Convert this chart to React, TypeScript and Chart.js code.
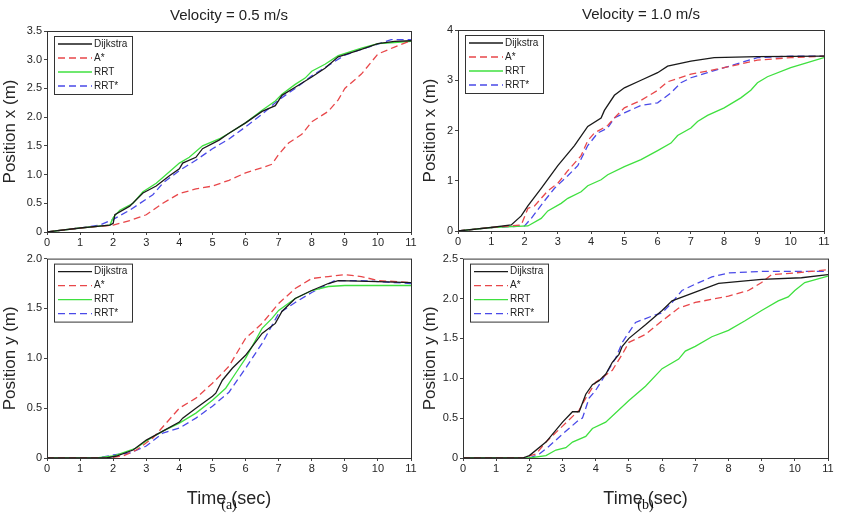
import React, { useRef, useEffect } from 'react';
import { Chart, registerables } from 'chart.js';

Chart.register(...registerables);

type Pt = [number, number];

const seriesNames = ['Dijkstra', 'A*', 'RRT', 'RRT*'];
const seriesColors = ['#1a1a1a', '#e8474a', '#3fe03f', '#4a4ae8'];
const seriesDash = [[], [7, 4], [], [7, 4]];
const timeTicks = [0, 1, 2, 3, 4, 5, 6, 7, 8, 9, 10, 11];

// velocity 0.5, position x
const ax05Dijkstra: Pt[] = [[0,0],[1,0.07],[1.9,0.12],[2,0.15],[2.05,0.3],[2.5,0.45],[2.9,0.68],[3.3,0.8],[3.7,0.98],[4,1.1],[4.1,1.2],[4.5,1.3],[4.7,1.45],[5.2,1.6],[5.5,1.72],[6,1.9],[6.5,2.1],[6.9,2.2],[7.1,2.38],[7.5,2.52],[8,2.7],[8.4,2.85],[8.8,3.05],[9.5,3.18],[10,3.28],[10.5,3.32],[11,3.33]];
const ax05Astar: Pt[] = [[0,0],[1,0.07],[2,0.12],[2.5,0.2],[3,0.3],[3.5,0.5],[4,0.67],[4.5,0.75],[5,0.8],[5.5,0.9],[6,1.03],[6.5,1.12],[6.8,1.18],[7,1.35],[7.3,1.55],[7.7,1.7],[8,1.92],[8.5,2.1],[8.8,2.3],[9,2.5],[9.5,2.75],[10,3.1],[10.5,3.22],[11,3.33]];
const ax05Rrt: Pt[] = [[0,0],[1,0.07],[1.9,0.12],[2,0.25],[2.2,0.38],[2.6,0.5],[2.9,0.7],[3.3,0.85],[3.7,1.05],[4,1.2],[4.3,1.3],[4.7,1.5],[5.2,1.62],[5.5,1.72],[6,1.9],[6.5,2.12],[6.9,2.28],[7.1,2.4],[7.5,2.57],[7.8,2.68],[8,2.8],[8.4,2.92],[8.8,3.07],[9.5,3.2],[10,3.28],[10.5,3.3],[11,3.32]];
const ax05RrtStar: Pt[] = [[0,0],[1,0.07],[1.6,0.12],[2,0.22],[2.5,0.38],[3.2,0.65],[3.5,0.85],[4,1.07],[4.5,1.25],[5,1.45],[5.5,1.62],[6,1.83],[6.5,2.05],[7,2.3],[7.5,2.5],[8,2.72],[8.5,2.9],[9,3.08],[9.5,3.18],[10,3.27],[10.4,3.35],[11,3.35]];

// velocity 1.0, position x
const ax10Dijkstra: Pt[] = [[0,0],[1,0.07],[1.6,0.12],[1.9,0.3],[2.1,0.5],[2.5,0.85],[3,1.3],[3.5,1.7],[3.9,2.08],[4.3,2.25],[4.4,2.4],[4.7,2.7],[5,2.85],[5.5,3.0],[6,3.15],[6.3,3.28],[7,3.38],[7.7,3.45],[9,3.47],[11,3.48]];
const ax10Astar: Pt[] = [[0,0],[1,0.07],[1.9,0.12],[2.1,0.45],[2.3,0.5],[2.7,0.8],[3,0.95],[3.3,1.2],[3.7,1.5],[3.9,1.8],[4.1,1.95],[4.5,2.1],[4.7,2.25],[5,2.45],[5.5,2.6],[6,2.8],[6.3,2.97],[7,3.12],[8,3.25],[9,3.4],[10,3.45],[11,3.48]];
const ax10Rrt: Pt[] = [[0,0],[1,0.07],[2.1,0.1],[2.5,0.25],[2.7,0.4],[3.1,0.55],[3.3,0.65],[3.7,0.78],[3.9,0.9],[4.3,1.02],[4.5,1.12],[5,1.28],[5.5,1.42],[6,1.6],[6.4,1.75],[6.6,1.9],[7,2.05],[7.2,2.18],[7.5,2.3],[8,2.45],[8.5,2.65],[8.8,2.8],[9,2.95],[9.3,3.07],[10,3.25],[10.5,3.35],[11,3.45]];
const ax10RrtStar: Pt[] = [[0,0],[1,0.07],[2,0.1],[2.2,0.25],[2.6,0.6],[2.9,0.85],[3.3,1.1],[3.6,1.3],[3.9,1.7],[4.2,1.95],[4.5,2.05],[4.7,2.25],[5,2.35],[5.5,2.5],[6,2.55],[6.4,2.75],[6.7,2.95],[7,3.05],[7.5,3.15],[8,3.25],[8.5,3.35],[9,3.45],[10,3.48],[11,3.48]];

// velocity 0.5, position y
const ay05Dijkstra: Pt[] = [[0,0],[1.8,0],[2.1,0.02],[2.6,0.08],[3,0.18],[3.5,0.27],[4,0.36],[4.1,0.4],[4.5,0.5],[5,0.62],[5.1,0.65],[5.3,0.78],[5.6,0.9],[6,1.03],[6.5,1.25],[6.9,1.35],[7.1,1.47],[7.5,1.6],[8,1.68],[8.5,1.75],[8.8,1.78],[10,1.77],[11,1.76]];
const ay05Astar: Pt[] = [[0,0],[1.8,0],[2.3,0.02],[2.7,0.08],[3.2,0.2],[3.6,0.35],[4,0.5],[4.5,0.6],[5,0.75],[5.5,0.92],[6,1.2],[6.5,1.35],[7,1.55],[7.5,1.7],[8,1.8],[8.5,1.82],[9,1.84],[9.5,1.82],[10,1.78],[11,1.76]];
const ay05Rrt: Pt[] = [[0,0],[1.5,0],[2,0.02],[2.7,0.1],[3,0.17],[3.5,0.27],[4,0.35],[4.5,0.45],[5,0.58],[5.4,0.7],[5.7,0.85],[6,1.0],[6.5,1.3],[6.8,1.4],[7,1.48],[7.5,1.6],[8,1.68],[8.5,1.72],[9,1.73],[11,1.73]];
const ay05RrtStar: Pt[] = [[0,0],[1.5,0],[2,0.03],[2.5,0.05],[3,0.12],[3.5,0.25],[4,0.3],[4.5,0.4],[5,0.52],[5.5,0.66],[6,0.9],[6.5,1.15],[7,1.45],[7.5,1.56],[8,1.66],[8.7,1.78],[9.5,1.78],[11,1.75]];

// velocity 1.0, position y
const ay10Dijkstra: Pt[] = [[0,0],[1.8,0],[2,0.03],[2.5,0.2],[3,0.45],[3.3,0.58],[3.5,0.58],[3.7,0.8],[3.9,0.92],[4.1,0.97],[4.3,1.05],[4.5,1.2],[4.7,1.3],[4.8,1.4],[5,1.5],[5.5,1.67],[6,1.85],[6.3,1.97],[7,2.08],[7.7,2.19],[9,2.24],[10.2,2.26],[11,2.3]];
const ay10Astar: Pt[] = [[0,0],[1.8,0],[2.2,0.05],[2.5,0.2],[3,0.4],[3.5,0.6],[3.7,0.75],[4,0.95],[4.5,1.1],[4.8,1.3],[5,1.45],[5.5,1.55],[6,1.72],[6.5,1.88],[7,1.95],[8,2.03],[8.6,2.1],[9,2.2],[9.3,2.3],[10,2.32],[11,2.36]];
const ay10Rrt: Pt[] = [[0,0],[2,0],[2.5,0.03],[2.8,0.1],[3.1,0.13],[3.3,0.2],[3.7,0.27],[3.9,0.37],[4.3,0.45],[5,0.72],[5.5,0.9],[6,1.12],[6.5,1.24],[6.7,1.34],[7,1.4],[7.5,1.52],[8,1.6],[8.5,1.72],[9,1.85],[9.5,1.97],[9.8,2.02],[10,2.1],[10.3,2.2],[11,2.28]];
const ay10RrtStar: Pt[] = [[0,0],[2,0],[2.3,0.05],[2.6,0.15],[3,0.3],[3.5,0.48],[3.6,0.5],[3.8,0.75],[4,0.85],[4.3,1.05],[4.6,1.25],[4.8,1.45],[5.2,1.7],[5.7,1.78],[6,1.82],[6.3,1.95],[6.6,2.1],[7,2.18],[7.5,2.27],[8,2.32],[9,2.34],[11,2.34]];

const FONT = 'Arial, "Liberation Sans", sans-serif';

interface PanelProps {
  left: number; top: number; width: number; height: number;
  area: { l: number; t: number; r: number; b: number }; // chart area in canvas px
  series: Pt[][];
  yMax: number; yStep: number;
  yTitle: string;
  title?: string;
  xTitle?: string;
  caption?: string;
}

function Panel({ left, top, width, height, area, series, yMax, yStep, yTitle, title, xTitle, caption }: PanelProps) {
  const ref = useRef<HTMLCanvasElement>(null);

  useEffect(() => {
    const canvas = ref.current;
    if (!canvas) return;
    const chart = new Chart(canvas, {
      type: 'line',
      data: {
        datasets: series.map((pts, i) => ({
          label: seriesNames[i],
          data: pts.map(([x, y]) => ({ x, y })),
          borderColor: seriesColors[i],
          borderDash: seriesDash[i],
          borderWidth: 1.3,
          pointRadius: 0,
          tension: 0,
        })),
      },
      options: {
        responsive: false,
        animation: false,
        layout: { padding: { top: area.t, right: width - area.r } },
        plugins: { legend: { display: false }, tooltip: { enabled: false } },
        scales: {
          x: {
            type: 'linear', min: 0, max: 11,
            afterBuildTicks: (s: any) => { s.ticks = timeTicks.map(v => ({ value: v })); },
            afterFit: (s: any) => { s.height = height - area.b; },
            grid: { drawOnChartArea: false, tickLength: 3, color: '#444' },
            border: { display: false },
            ticks: { color: '#262626', font: { family: FONT, size: 11 }, padding: 1, maxRotation: 0 },
            title: xTitle ? { display: true, text: xTitle, color: '#262626', font: { family: FONT, size: 18 }, padding: { top: 4 } } : { display: false },
          },
          y: {
            min: 0, max: yMax,
            ticks: { stepSize: yStep, color: '#262626', font: { family: FONT, size: 11 }, padding: 2 },
            afterFit: (s: any) => { s.width = area.l; },
            grid: { drawOnChartArea: false, tickLength: 3, color: '#444' },
            border: { display: false },
            title: { display: true, text: yTitle, color: '#262626', font: { family: FONT, size: 17 }, padding: 0 },
          },
        },
      },
      plugins: [{
        id: 'frameLegend',
        afterDraw(c) {
          const { ctx, chartArea: ca } = c;
          ctx.save();
          ctx.strokeStyle = '#333';
          ctx.lineWidth = 1;
          ctx.strokeRect(ca.left + 0.5, ca.top + 0.5, ca.right - ca.left, ca.bottom - ca.top);
          // legend box
          const lx = ca.left + 7, ly = ca.top + 5, lw = 78, lh = 58;
          ctx.fillStyle = '#fff';
          ctx.fillRect(lx, ly, lw, lh);
          ctx.strokeStyle = '#333';
          ctx.strokeRect(lx + 0.5, ly + 0.5, lw, lh);
          ctx.font = `10px ${FONT}`;
          ctx.textBaseline = 'middle';
          seriesNames.forEach((n, i) => {
            const yy = ly + 8 + i * 14;
            ctx.strokeStyle = seriesColors[i];
            ctx.setLineDash(seriesDash[i]);
            ctx.lineWidth = 1.3;
            ctx.beginPath();
            ctx.moveTo(lx + 4, yy);
            ctx.lineTo(lx + 38, yy);
            ctx.stroke();
            ctx.setLineDash([]);
            ctx.fillStyle = '#222';
            ctx.fillText(n, lx + 40, yy);
          });
          if (title) {
            ctx.textAlign = 'center';
            ctx.font = `15px ${FONT}`;
            ctx.fillStyle = '#222';
            ctx.fillText(title, (ca.left + ca.right) / 2, ca.top - 15);
          }
          if (caption) {
            ctx.textAlign = 'center';
            ctx.font = `14px "Liberation Serif", serif`;
            ctx.fillStyle = '#111';
            ctx.fillText(caption, (ca.left + ca.right) / 2, height - 9);
          }
          ctx.restore();
        },
      }],
    });
    return () => { chart.destroy(); };
  }, []);

  return <canvas ref={ref} width={width} height={height} style={{ position: 'absolute', left, top, width, height }} />;
}

export default function App() {
  return (
    <div style={{ position: 'fixed', left: 0, top: 0, width: 845, height: 514, background: '#fff' }}>
      <Panel left={0} top={0} width={420} height={250} area={{ l: 47, t: 31, r: 411, b: 232 }}
        series={[ax05Dijkstra, ax05Astar, ax05Rrt, ax05RrtStar]} yMax={3.5} yStep={0.5}
        yTitle="Position x (m)" title="Velocity = 0.5 m/s" />
      <Panel left={420} top={0} width={425} height={250} area={{ l: 38, t: 30, r: 404, b: 231 }}
        series={[ax10Dijkstra, ax10Astar, ax10Rrt, ax10RrtStar]} yMax={4} yStep={1}
        yTitle="Position x (m)" title="Velocity = 1.0 m/s" />
      <Panel left={0} top={250} width={420} height={264} area={{ l: 47, t: 5, r: 411, b: 208 }}
        series={[ay05Dijkstra, ay05Astar, ay05Rrt, ay05RrtStar]} yMax={2} yStep={0.5}
        yTitle="Position y (m)" xTitle="Time (sec)" caption="(a)" />
      <Panel left={420} top={250} width={425} height={264} area={{ l: 43, t: 6, r: 408, b: 208 }}
        series={[ay10Dijkstra, ay10Astar, ay10Rrt, ay10RrtStar]} yMax={2.5} yStep={0.5}
        yTitle="Position y (m)" xTitle="Time (sec)" caption="(b)" />
    </div>
  );
}
